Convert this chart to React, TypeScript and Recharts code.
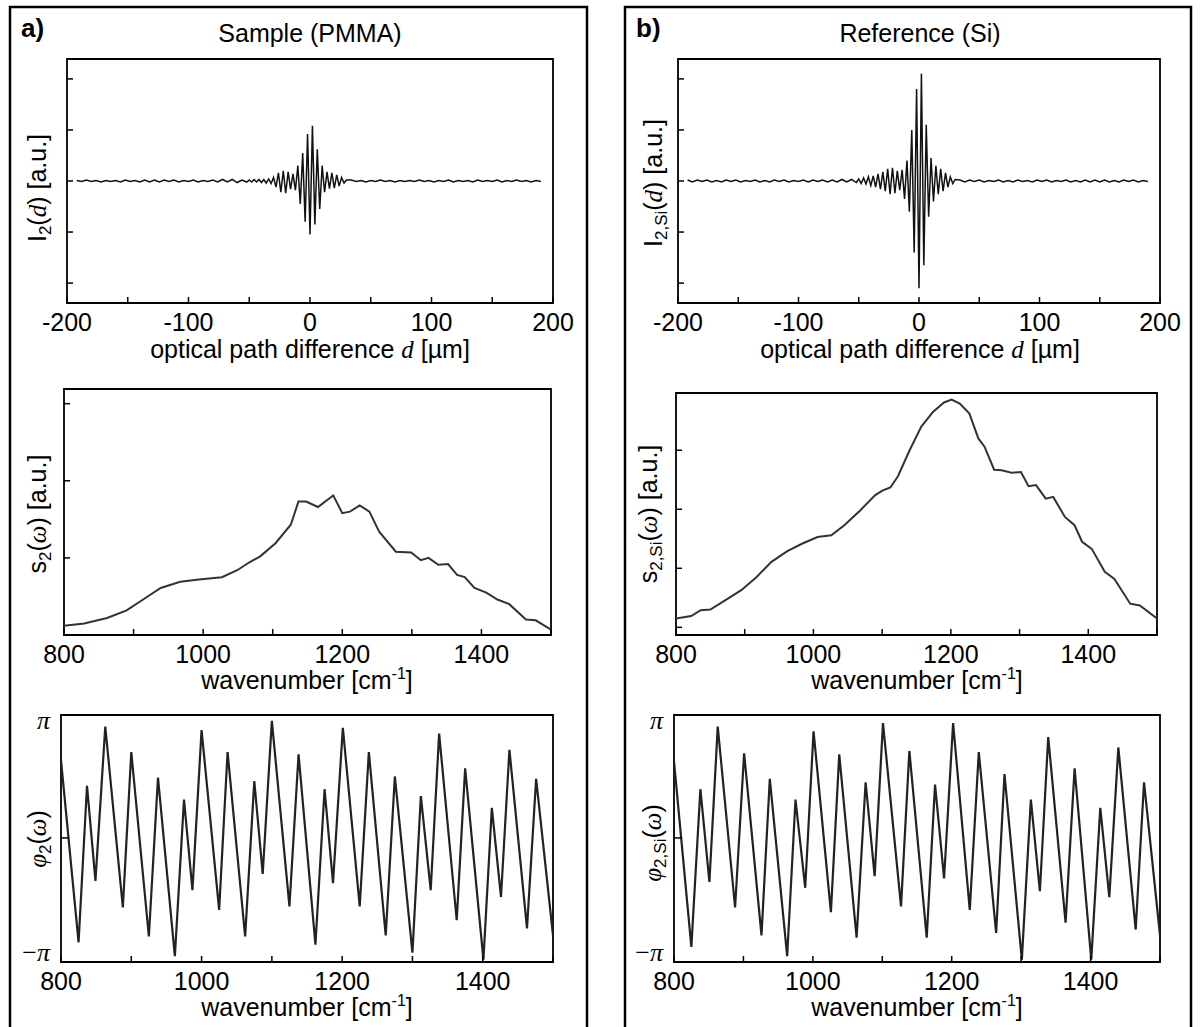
import React from 'react';
import { LineChart, Line, XAxis, YAxis, ReferenceArea } from 'recharts';

// optical path difference d [µm] – sampling positions (wings coarse, burst fine)
const D_LEFT = [-192, -188, -184, -180, -176, -172, -168, -164, -160, -156, -152, -148, -144, -140, -136, -132, -128, -124, -120, -116, -112, -108, -104, -100, -96, -92, -88, -84, -80, -76, -72, -68, -64, -60, -56, -52];
const D_BURST = [-50, -48, -46, -44, -42, -40, -38, -36, -34, -32, -30, -28, -26, -24, -22, -20, -18, -16, -14, -12, -10, -8, -6, -4, -2, 0, 2, 4, 6, 8, 10, 12, 14, 16, 18, 20, 22, 24, 26, 28, 30];
const D_RIGHT = [34, 38, 42, 46, 50, 54, 58, 62, 66, 70, 74, 78, 82, 86, 90, 94, 98, 102, 106, 110, 114, 118, 122, 126, 130, 134, 138, 142, 146, 150, 154, 158, 162, 166, 170, 174, 178, 182, 186, 190];

// interferogram, sample (PMMA)
const I2_PMMA_LEFT = [0.01, -0.01, 0.02, -0.01, 0.01, -0.02, 0.01, -0.01, 0.01, -0.02, 0.02, -0.01, 0.01, -0.02, 0.02, -0.02, 0.02, -0.02, 0.02, -0.01, 0.02, -0.02, 0.01, -0.01, 0.02, -0.02, 0.01, -0.01, 0.02, -0.02, 0.03, -0.02, 0.03, -0.03, 0.02, -0.02];
const I2_PMMA_BURST = [0.02, -0.02, 0.03, -0.02, 0.03, -0.03, 0.03, -0.04, 0.04, -0.05, 0.07, -0.12, 0.16, -0.22, 0.2, -0.24, 0.18, -0.16, 0.14, -0.18, 0.3, -0.45, 0.55, -0.8, 0.92, -1.05, 1.08, -0.85, 0.62, -0.55, 0.3, -0.22, 0.18, -0.15, 0.16, -0.14, 0.12, -0.1, 0.07, -0.04, 0.02];
const I2_PMMA_RIGHT = [0.02, -0.01, 0.01, -0.02, 0.01, -0.01, 0.02, -0.01, 0.01, -0.02, 0.01, -0.01, 0.01, -0.01, 0.02, -0.01, 0.01, -0.02, 0.01, -0.01, 0.02, -0.02, 0.01, -0.01, 0.01, -0.02, 0.02, -0.01, 0.01, -0.01, 0.02, -0.02, 0.01, -0.01, 0.02, -0.01, 0.01, -0.02, 0.01, -0.01];

// interferogram, reference (Si)
const I2_SI_LEFT = [0.02, -0.02, 0.02, -0.01, 0.02, -0.02, 0.01, -0.02, 0.02, -0.01, 0.02, -0.02, 0.01, -0.01, 0.02, -0.02, 0.01, -0.02, 0.02, -0.01, 0.02, -0.02, 0.01, -0.01, 0.02, -0.02, 0.02, -0.01, 0.02, -0.02, 0.02, -0.02, 0.03, -0.02, 0.03, -0.03];
const I2_SI_BURST = [0.04, -0.05, 0.06, -0.06, 0.08, -0.09, 0.1, -0.12, 0.14, -0.16, 0.18, -0.2, 0.24, -0.26, 0.26, -0.24, 0.2, -0.18, 0.22, -0.35, 0.4, -0.6, 1.0, -1.4, 1.8, -2.1, 2.1, -1.65, 1.1, -0.7, 0.45, -0.4, 0.3, -0.26, 0.24, -0.2, 0.16, -0.12, 0.08, -0.05, 0.03];
const I2_SI_RIGHT = [0.02, -0.02, 0.02, -0.01, 0.02, -0.02, 0.01, -0.01, 0.02, -0.02, 0.01, -0.02, 0.02, -0.01, 0.01, -0.02, 0.02, -0.01, 0.02, -0.02, 0.01, -0.01, 0.02, -0.02, 0.01, -0.02, 0.02, -0.02, 0.02, -0.02, 0.02, -0.02, 0.01, -0.02, 0.02, -0.01, 0.02, -0.02, 0.01, -0.01];

// amplitude spectra
const S2_PMMA_WN = [800, 829, 862, 890, 917, 939, 967, 994, 1027, 1049, 1066, 1082, 1104, 1126, 1137, 1148, 1165, 1187, 1200, 1211, 1225, 1239, 1253, 1277, 1299, 1313, 1324, 1338, 1352, 1365, 1376, 1390, 1407, 1423, 1440, 1464, 1478, 1500];
const S2_PMMA = [0.12, 0.15, 0.22, 0.32, 0.48, 0.61, 0.69, 0.72, 0.75, 0.84, 0.94, 1.02, 1.19, 1.43, 1.73, 1.73, 1.66, 1.81, 1.58, 1.6, 1.68, 1.6, 1.34, 1.08, 1.07, 0.97, 1.0, 0.91, 0.92, 0.78, 0.75, 0.61, 0.55, 0.46, 0.4, 0.2, 0.19, 0.07];
const S2_SI_WN = [800, 822, 836, 850, 872, 895, 917, 939, 962, 984, 1006, 1026, 1045, 1068, 1090, 1101, 1112, 1123, 1140, 1157, 1174, 1190, 1201, 1213, 1227, 1240, 1249, 1263, 1274, 1288, 1302, 1313, 1324, 1338, 1349, 1366, 1380, 1391, 1405, 1424, 1438, 1461, 1475, 1500];
const S2_SI = [0.15, 0.19, 0.29, 0.3, 0.46, 0.63, 0.85, 1.11, 1.29, 1.42, 1.53, 1.56, 1.73, 1.98, 2.24, 2.32, 2.37, 2.56, 3.0, 3.4, 3.65, 3.81, 3.86, 3.79, 3.62, 3.2, 3.06, 2.67, 2.66, 2.62, 2.63, 2.39, 2.41, 2.18, 2.21, 1.87, 1.73, 1.45, 1.33, 0.94, 0.82, 0.4, 0.37, 0.15];

// phase spectra, in units of pi
const PHI_PMMA_WN = [800, 825, 837, 849, 863, 888, 900, 925, 938, 962, 975, 987, 1000, 1025, 1037, 1062, 1075, 1087, 1100, 1125, 1138, 1162, 1175, 1187, 1201, 1225, 1238, 1262, 1275, 1300, 1312, 1326, 1338, 1363, 1375, 1401, 1413, 1426, 1438, 1463, 1476, 1500];
const PHI_PMMA = [0.67, -0.9, 0.45, -0.37, 0.96, -0.6, 0.74, -0.85, 0.52, -1.02, 0.33, -0.45, 0.93, -0.62, 0.74, -0.85, 0.49, -0.31, 1.01, -0.59, 0.72, -0.92, 0.42, -0.39, 0.95, -0.59, 0.74, -0.84, 0.53, -0.99, 0.36, -0.45, 0.9, -0.71, 0.6, -1.05, 0.26, -0.51, 0.76, -0.78, 0.51, -0.84];
const PHI_SI_WN = [800, 825, 838, 851, 863, 888, 901, 926, 938, 963, 975, 989, 1001, 1026, 1038, 1063, 1076, 1089, 1101, 1127, 1139, 1164, 1176, 1189, 1202, 1226, 1239, 1264, 1276, 1301, 1314, 1327, 1339, 1364, 1377, 1401, 1414, 1427, 1440, 1465, 1477, 1500];
const PHI_SI = [0.66, -0.94, 0.42, -0.38, 0.96, -0.6, 0.73, -0.84, 0.51, -1.02, 0.33, -0.43, 0.92, -0.64, 0.72, -0.86, 0.48, -0.33, 0.99, -0.59, 0.75, -0.86, 0.46, -0.35, 0.99, -0.62, 0.74, -0.82, 0.55, -1.05, 0.33, -0.46, 0.87, -0.73, 0.6, -1.05, 0.26, -0.51, 0.78, -0.79, 0.48, -0.84];

// axis ticks
const D_TICKS = [-200, -150, -100, -50, 0, 50, 100, 150, 200];
const D_LABELS = [-200, -100, 0, 100, 200];
const WN_TICKS = [800, 900, 1000, 1100, 1200, 1300, 1400, 1500];
const WN_LABELS = [800, 1000, 1200, 1400];
const I_TICKS = [-2, -1, 0, 1, 2];
const S_TICKS = [0, 1, 2, 3];
const PHI_TICKS = [-1, 0, 1];

const SANS = '"Liberation Sans", Arial, Helvetica, sans-serif';
const SERIF = '"Liberation Serif", "Times New Roman", serif';
const FS = 25;

const D_UM = [...D_LEFT, ...D_BURST, ...D_RIGHT];
const I2_PMMA = [...I2_PMMA_LEFT, ...I2_PMMA_BURST, ...I2_PMMA_RIGHT];
const I2_SI = [...I2_SI_LEFT, ...I2_SI_BURST, ...I2_SI_RIGHT];

const XTick = (props: any) => {
    const { x, y, payload, labels } = props;
    const v = payload.value;
    return (
        <g>
            <line x1={x} x2={x} y1={y} y2={y - 6} stroke="#000" strokeWidth={1.5} />
            {labels.includes(v) && (
                <text x={x} y={y + 28} textAnchor="middle" fontSize={FS} fontFamily={SANS} fill="#000">
                    {v}
                </text>
            )}
        </g>
    );
};

const YTick = (props: any) => {
    const { x, y, payload, phase } = props;
    const v = payload.value;
    if (phase) {
        if (v === 0) return <line x1={x} x2={x + 8} y1={y} y2={y} stroke="#000" strokeWidth={1.5} />;
        return (
            <text x={x - 11} y={y + 7} textAnchor="end" fontSize={26} fontFamily={SERIF} fill="#000">
                {v < 0 ? '\u2212' : ''}
                <tspan fontStyle="italic">π</tspan>
            </text>
        );
    }
    return <line x1={x} x2={x + 6} y1={y} y2={y} stroke="#000" strokeWidth={1.5} />;
};

type PlotProps = {
    fx: number; fy: number; fw: number; fh: number;
    xs: number[]; ys: number[];
    xDomain: [number, number]; yDomain: [number, number];
    xTicks: number[]; xLabels: number[]; yTicks: number[];
    phase?: boolean; stroke: string; strokeWidth: number;
};

const Plot = ({ fx, fy, fw, fh, xs, ys, xDomain, yDomain, xTicks, xLabels, yTicks, phase, stroke, strokeWidth }: PlotProps) => {
    const YW = 70, MT = 20, MR = 34, XH = 50;
    const data = xs.map((x, i) => ({ x, y: ys[i] }));
    return (
        <div style={{ position: 'absolute', left: fx - YW, top: fy - MT }}>
            <LineChart width={YW + fw + MR} height={MT + fh + XH} data={data} margin={{ top: MT, right: MR, bottom: 0, left: 0 }}>
                <XAxis
                    type="number" dataKey="x" domain={xDomain} ticks={xTicks} interval={0} allowDataOverflow
                    axisLine={false} tickLine={false} tickSize={0} tickMargin={0} height={XH}
                    tick={(p: any) => <XTick {...p} labels={xLabels} />}
                />
                <YAxis
                    type="number" domain={yDomain} ticks={yTicks} interval={0} allowDataOverflow
                    axisLine={false} tickLine={false} tickSize={0} tickMargin={0} width={YW}
                    tick={(p: any) => <YTick {...p} phase={phase} />}
                />
                <ReferenceArea x1={xDomain[0]} x2={xDomain[1]} y1={yDomain[0]} y2={yDomain[1]} fill="none" fillOpacity={0} stroke="#000" strokeWidth={1.8} />
                <Line type="linear" dataKey="y" stroke={stroke} strokeWidth={strokeWidth} dot={false} isAnimationActive={false} />
            </LineChart>
        </div>
    );
};

const VLabel = ({ x, y, children }: { x: number; y: number; children: React.ReactNode }) => (
    <text x={x} y={y} transform={`rotate(-90 ${x} ${y})`} textAnchor="middle" fontSize={FS} fontFamily={SANS} fill="#000">
        {children}
    </text>
);

const Sub = ({ t }: { t: string }) => (
    <>
        <tspan fontSize={17} dy={5}>{t}</tspan>
        <tspan dy={-5}>(</tspan>
    </>
);

const Wn = ({ x, y }: { x: number; y: number }) => (
    <text x={x} y={y} textAnchor="middle" fontSize={FS} fontFamily={SANS} fill="#000">
        wavenumber [cm<tspan fontSize={16} dy={-10}>-1</tspan><tspan dy={10}>]</tspan>
    </text>
);

export default function App() {
    return (
        <div style={{ position: 'absolute', left: 0, top: 0, width: 1200, height: 1027, background: '#fff', overflow: 'hidden', fontFamily: SANS }}>
            {/* panel a: PMMA */}
            <Plot fx={67} fy={59} fw={486} fh={244} xs={D_UM} ys={I2_PMMA} xDomain={[-200, 200]} yDomain={[-2.39, 2.39]}
                xTicks={D_TICKS} xLabels={D_LABELS} yTicks={I_TICKS} stroke="#111" strokeWidth={1.5} />
            <Plot fx={64} fy={389} fw={487} fh={246} xs={S2_PMMA_WN} ys={S2_PMMA} xDomain={[800, 1500]} yDomain={[0, 3.19]}
                xTicks={WN_TICKS} xLabels={WN_LABELS} yTicks={S_TICKS} stroke="#333" strokeWidth={2} />
            <Plot fx={61} fy={715} fw={492} fh={247} xs={PHI_PMMA_WN} ys={PHI_PMMA} xDomain={[800, 1500]} yDomain={[-1.07, 1.06]}
                xTicks={WN_TICKS} xLabels={WN_LABELS} yTicks={PHI_TICKS} phase stroke="#222" strokeWidth={2.2} />

            {/* panel b: Si reference */}
            <Plot fx={678} fy={59} fw={482} fh={244} xs={D_UM} ys={I2_SI} xDomain={[-200, 200]} yDomain={[-2.39, 2.39]}
                xTicks={D_TICKS} xLabels={D_LABELS} yTicks={I_TICKS} stroke="#111" strokeWidth={1.5} />
            <Plot fx={676} fy={393} fw={481} fh={242} xs={S2_SI_WN} ys={S2_SI} xDomain={[800, 1500]} yDomain={[-0.13, 3.97]}
                xTicks={WN_TICKS} xLabels={WN_LABELS} yTicks={S_TICKS} stroke="#333" strokeWidth={2} />
            <Plot fx={674} fy={715} fw={486} fh={247} xs={PHI_SI_WN} ys={PHI_SI} xDomain={[800, 1500]} yDomain={[-1.07, 1.06]}
                xTicks={WN_TICKS} xLabels={WN_LABELS} yTicks={PHI_TICKS} phase stroke="#222" strokeWidth={2.2} />

            <svg width={1200} height={1027} style={{ position: 'absolute', left: 0, top: 0, pointerEvents: 'none' }}>
                <rect x={10} y={7} width={577} height={1040} fill="none" stroke="#000" strokeWidth={2.5} />
                <rect x={625} y={7} width={566} height={1040} fill="none" stroke="#000" strokeWidth={2.5} />

                <text x={21} y={37} fontSize={26} fontWeight="bold" fontFamily={SANS}>a)</text>
                <text x={636} y={37} fontSize={26} fontWeight="bold" fontFamily={SANS}>b)</text>
                <text x={310} y={42} textAnchor="middle" fontSize={FS} fontFamily={SANS}>Sample (PMMA)</text>
                <text x={920} y={42} textAnchor="middle" fontSize={FS} fontFamily={SANS}>Reference (Si)</text>

                <text x={310} y={358} textAnchor="middle" fontSize={FS} fontFamily={SANS}>
                    optical path difference <tspan fontFamily={SERIF} fontStyle="italic">d</tspan> [µm]
                </text>
                <text x={920} y={358} textAnchor="middle" fontSize={FS} fontFamily={SANS}>
                    optical path difference <tspan fontFamily={SERIF} fontStyle="italic">d</tspan> [µm]
                </text>
                <Wn x={307} y={689} />
                <Wn x={917} y={689} />
                <Wn x={307} y={1016} />
                <Wn x={917} y={1016} />

                <VLabel x={46} y={188}>
                    I<Sub t="2" /><tspan fontFamily={SERIF} fontStyle="italic">d</tspan>) [a.u.]
                </VLabel>
                <VLabel x={46} y={514}>
                    s<Sub t="2" /><tspan fontFamily={SERIF} fontStyle="italic">ω</tspan>) [a.u.]
                </VLabel>
                <VLabel x={46} y={839}>
                    <tspan fontFamily={SERIF} fontStyle="italic">φ</tspan><Sub t="2" /><tspan fontFamily={SERIF} fontStyle="italic">ω</tspan>)
                </VLabel>
                <VLabel x={662} y={183}>
                    I<Sub t="2,Si" /><tspan fontFamily={SERIF} fontStyle="italic">d</tspan>) [a.u.]
                </VLabel>
                <VLabel x={657} y={514}>
                    s<Sub t="2,Si" /><tspan fontFamily={SERIF} fontStyle="italic">ω</tspan>) [a.u.]
                </VLabel>
                <VLabel x={661} y={843}>
                    <tspan fontFamily={SERIF} fontStyle="italic">φ</tspan><Sub t="2,Si" /><tspan fontFamily={SERIF} fontStyle="italic">ω</tspan>)
                </VLabel>
            </svg>
        </div>
    );
}
